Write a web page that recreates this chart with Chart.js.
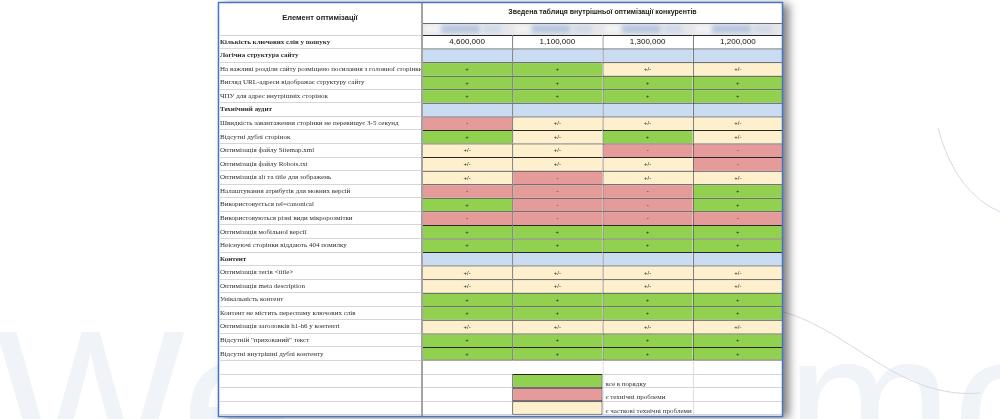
<!DOCTYPE html>
<html>
<head>
<meta charset="utf-8">
<script src="https://cdn.jsdelivr.net/npm/chart.js@4.4.0/dist/chart.umd.min.js"></script>
<style>
  html, body { margin: 0; padding: 0; background: #fff; overflow: hidden; }
  canvas { display: block; }
</style>
</head>
<body>
<canvas id="table" width="1000" height="419"></canvas>
<script>
// --- data ---
const tableTitle = 'Зведена таблиця внутрішньої оптимізації конкурентів';
const firstHeader = 'Елемент оптимізації';
const keywordCounts = [4600000, 1100000, 1300000, 1200000];

const rowLabels = [
  'Кількість ключових слів у пошуку',
  'Логічна структура сайту',
  'На важливі розділи сайту розміщено посилання з головної сторінки',
  'Вигляд URL-адреси відображає структуру сайту',
  'ЧПУ для адрес внутрішніх сторінок',
  'Технічний аудит',
  'Швидкість завантаження сторінки не перевищує 3-5 секунд',
  'Відсутні дублі сторінок',
  'Оптимізація файлу Sitemap.xml',
  'Оптимізація файлу Robots.txt',
  'Оптимізація alt та title для зображень',
  'Налаштування атрибутів для мовних версій',
  'Використовується rel=canonical',
  'Використовуються різні види мікророзмітки',
  'Оптимізація мобільної версії',
  'Неіснуючі сторінки віддають 404 помилку',
  'Контент',
  'Оптимізація тегів <title>',
  'Оптимізація meta description',
  'Унікальність контент',
  'Контент не містить переспаму ключових слів',
  'Оптимізація заголовків h1-h6 у контенті',
  'Відсутній "прихований" текст',
  'Відсутні внутрішні дублі контенту',
  '', '', '', ''
];
const sectionRows = [1, 5, 16];
const criteriaRows = [2, 3, 4, 6, 7, 8, 9, 10, 11, 12, 13, 14, 15, 17, 18, 19, 20, 21, 22, 23];

// one mark per criteria row, per competitor
const site1 = ['+', '+', '+', '-', '+', '+/-', '+/-', '+/-', '-', '+', '-', '+', '+', '+/-', '+/-', '+', '+', '+/-', '+', '+'];
const site2 = ['+', '+', '+', '+/-', '+/-', '+/-', '+/-', '-', '-', '-', '-', '+', '+', '+/-', '+/-', '+', '+', '+/-', '+', '+'];
const site3 = ['+/-', '+', '+', '+/-', '+', '-', '+/-', '+/-', '-', '-', '-', '+', '+', '+/-', '+/-', '+', '+', '+/-', '+', '+'];
const site4 = ['+/-', '+', '+', '+/-', '+/-', '-', '-', '+/-', '+', '+', '-', '+', '+', '+/-', '+/-', '+', '+', '+/-', '+', '+'];

const legendRows = [25, 26, 27];
const legendMarks = ['+', '-', '+/-'];
const legendLabels = ['все в порядку', 'є технічні проблеми', 'є часткові технічні проблеми'];

// --- styling ---
const sites = [site1, site2, site3, site4];
const statusColor = { '+': '#92D050', '-': '#E69B9B', '+/-': '#FEF0CD' };
const sectionColor = '#C9DCF2';
const darkLine = '#262626';
const lightLine = '#d6d6d6';
const lastCriteria = criteriaRows[criteriaRows.length - 1];

function markAt(col, row) {
  const i = criteriaRows.indexOf(row);
  return i >= 0 ? sites[col][i] : null;
}

function cellFill(col, row) {
  if (row === 0) return '#ffffff';
  if (sectionRows.includes(row)) return sectionColor;
  const m = markAt(col, row);
  if (m) return statusColor[m];
  const li = legendRows.indexOf(row);
  if (li >= 0 && col === 1) return statusColor[legendMarks[li]];
  return 'rgba(0,0,0,0)';
}

function cellBorder(col, row) {
  const li = legendRows.indexOf(row);
  if (li >= 0 && col === 1) return { top: 1, left: 1, right: 1, bottom: 1 };
  if (row > lastCriteria) return { top: 0, left: col > 1 ? 1 : 0, right: 0, bottom: 0 };
  return { top: 1, left: col > 0 ? 1 : 0, right: 0, bottom: row === lastCriteria ? 1 : 0 };
}

function cellBorderColor(col, row) {
  const li = legendRows.indexOf(row);
  if (row > lastCriteria && !(li >= 0 && col === 1)) return lightLine;
  return darkLine;
}

const datasets = sites.map((marks, c) => ({
  label: 'site' + (c + 1),
  data: rowLabels.map(() => [c, c + 1]),
  grouped: false,
  barPercentage: 1,
  categoryPercentage: 1,
  borderSkipped: false,
  inflateAmount: 0,
  backgroundColor: ctx => cellFill(c, ctx.dataIndex),
  borderColor: ctx => cellBorderColor(c, ctx.dataIndex),
  borderWidth: ctx => cellBorder(c, ctx.dataIndex)
}));

const TABLE = { left: 218, top: 2, right: 783, bottom: 416 };

const tablePlugin = {
  id: 'tableDecor',
  beforeDraw(chart) {
    const ctx = chart.ctx;
    const x = chart.scales.x;
    ctx.save();
    ctx.fillStyle = '#ffffff';
    ctx.fillRect(0, 0, chart.width, chart.height);

    // faint watermark behind the table
    ctx.fillStyle = '#f0f3f8';
    ctx.font = '200px "Liberation Sans"';
    ctx.textBaseline = 'alphabetic';
    ctx.fillText('We', -4, 470);
    ctx.fillText('mo', 786, 472);
    ctx.strokeStyle = '#d3dbe8';
    ctx.lineWidth = 1;
    ctx.beginPath();
    ctx.moveTo(783, 312);
    ctx.bezierCurveTo(850, 330, 900, 400, 980, 393);
    ctx.stroke();
    ctx.beginPath();
    ctx.moveTo(938, 128);
    ctx.quadraticCurveTo(955, 192, 1000, 212);
    ctx.stroke();

    // sheet with drop shadow
    ctx.shadowColor = 'rgba(0,0,0,0.5)';
    ctx.shadowBlur = 9;
    ctx.shadowOffsetX = 6;
    ctx.shadowOffsetY = 2;
    ctx.fillStyle = '#ffffff';
    ctx.fillRect(TABLE.left, TABLE.top, TABLE.right - TABLE.left, TABLE.bottom - TABLE.top);
    ctx.restore();

    // header band with blurred competitor names
    ctx.save();
    const bandTop = 23, bandBottom = chart.chartArea.top;
    ctx.fillStyle = '#e5e7ea';
    ctx.fillRect(x.left, bandTop, x.right - x.left, bandBottom - bandTop);
    ctx.filter = 'blur(2px)';
    keywordCounts.forEach((v, c) => {
      const a = x.getPixelForValue(c), b = x.getPixelForValue(c + 1);
      const w = b - a;
      ctx.fillStyle = '#f2f2f3';
      ctx.fillRect(a + 2, bandTop + 2, w * 0.18, bandBottom - bandTop - 4);
      ctx.fillStyle = '#b6c6e0';
      ctx.fillRect(a + w * 0.22, bandTop + 2, w * 0.42, bandBottom - bandTop - 4);
      ctx.fillStyle = '#d0d9ea';
      ctx.fillRect(a + w * 0.68, bandTop + 2, w * 0.2, bandBottom - bandTop - 4);
    });
    ctx.filter = 'none';
    ctx.strokeStyle = '#6a6a6a';
    ctx.lineWidth = 1;
    ctx.beginPath();
    ctx.moveTo(x.left, bandTop + 0.5);
    ctx.lineTo(x.right, bandTop + 0.5);
    ctx.stroke();
    ctx.restore();
  },
  afterDatasetsDraw(chart) {
    const ctx = chart.ctx;
    const x = chart.scales.x;
    ctx.save();
    ctx.textAlign = 'center';
    ctx.textBaseline = 'middle';
    sites.forEach((marks, c) => {
      const meta = chart.getDatasetMeta(c);
      meta.data.forEach((el, row) => {
        const p = el.getProps(['x', 'y', 'base'], true);
        const cx = (p.x + p.base) / 2;
        if (row === 0) {
          ctx.fillStyle = '#111';
          ctx.font = '8px "Liberation Sans"';
          ctx.fillText(keywordCounts[c].toLocaleString('en-US'), cx, p.y + 0.5);
          return;
        }
        const m = markAt(c, row);
        if (m) {
          ctx.fillStyle = '#2b2b2b';
          ctx.font = '6px "Liberation Sans"';
          ctx.fillText(m, cx, p.y + 0.5);
        }
      });
    });
    // legend captions next to the colour samples
    const meta = chart.getDatasetMeta(1);
    ctx.textAlign = 'left';
    ctx.fillStyle = '#333';
    ctx.font = '7px "Liberation Serif"';
    legendRows.forEach((row, i) => {
      const p = meta.data[row].getProps(['y'], true);
      ctx.fillText(legendLabels[i], x.getPixelForValue(2) + 3, p.y + 3);
    });
    ctx.restore();
  },
  afterDraw(chart) {
    const ctx = chart.ctx;
    const x = chart.scales.x;
    const area = chart.chartArea;
    ctx.save();
    // header texts
    ctx.fillStyle = '#222';
    ctx.textAlign = 'center';
    ctx.textBaseline = 'middle';
    ctx.font = 'bold 7.5px "Liberation Sans"';
    ctx.fillText(firstHeader, (TABLE.left + area.left) / 2, 18);
    ctx.font = 'bold 7px "Liberation Sans"';
    ctx.fillText(tableTitle, (x.left + x.right) / 2, 12.5);

    // divider between names and competitors
    ctx.strokeStyle = '#a3a3a3';
    ctx.lineWidth = 2;
    ctx.beginPath();
    ctx.moveTo(area.left, TABLE.top);
    ctx.lineTo(area.left, TABLE.bottom);
    ctx.stroke();

    // outer frame
    ctx.strokeStyle = '#4676c0';
    ctx.lineWidth = 1.5;
    ctx.strokeRect(TABLE.left + 0.5, TABLE.top + 0.5, TABLE.right - TABLE.left - 1, TABLE.bottom - TABLE.top);
    ctx.restore();
  }
};

new Chart(document.getElementById('table').getContext('2d'), {
  type: 'bar',
  data: { labels: rowLabels, datasets },
  options: {
    indexAxis: 'y',
    responsive: false,
    animation: false,
    events: [],
    layout: { padding: { left: 220, top: 35, right: 1000 - TABLE.right, bottom: 3 } },
    plugins: { legend: { display: false }, tooltip: { enabled: false }, title: { display: false } },
    scales: {
      x: {
        type: 'linear', min: 0, max: 4, display: false
      },
      y: {
        type: 'category',
        offset: true,
        grid: { offset: true, color: lightLine, lineWidth: 1, drawTicks: true, tickLength: 202 },
        border: { display: false },
        ticks: {
          autoSkip: false,
          crossAlign: 'far',
          padding: 0,
          color: '#2e2e2e',
          font: ctx => ({
            family: '"Liberation Serif"',
            size: 7,
            weight: (ctx.index === 0 || sectionRows.includes(ctx.index)) ? 'bold' : 'normal'
          })
        },
        afterFit(scale) { scale.width = 202; }
      }
    }
  },
  plugins: [tablePlugin]
});
</script>
</body>
</html>
